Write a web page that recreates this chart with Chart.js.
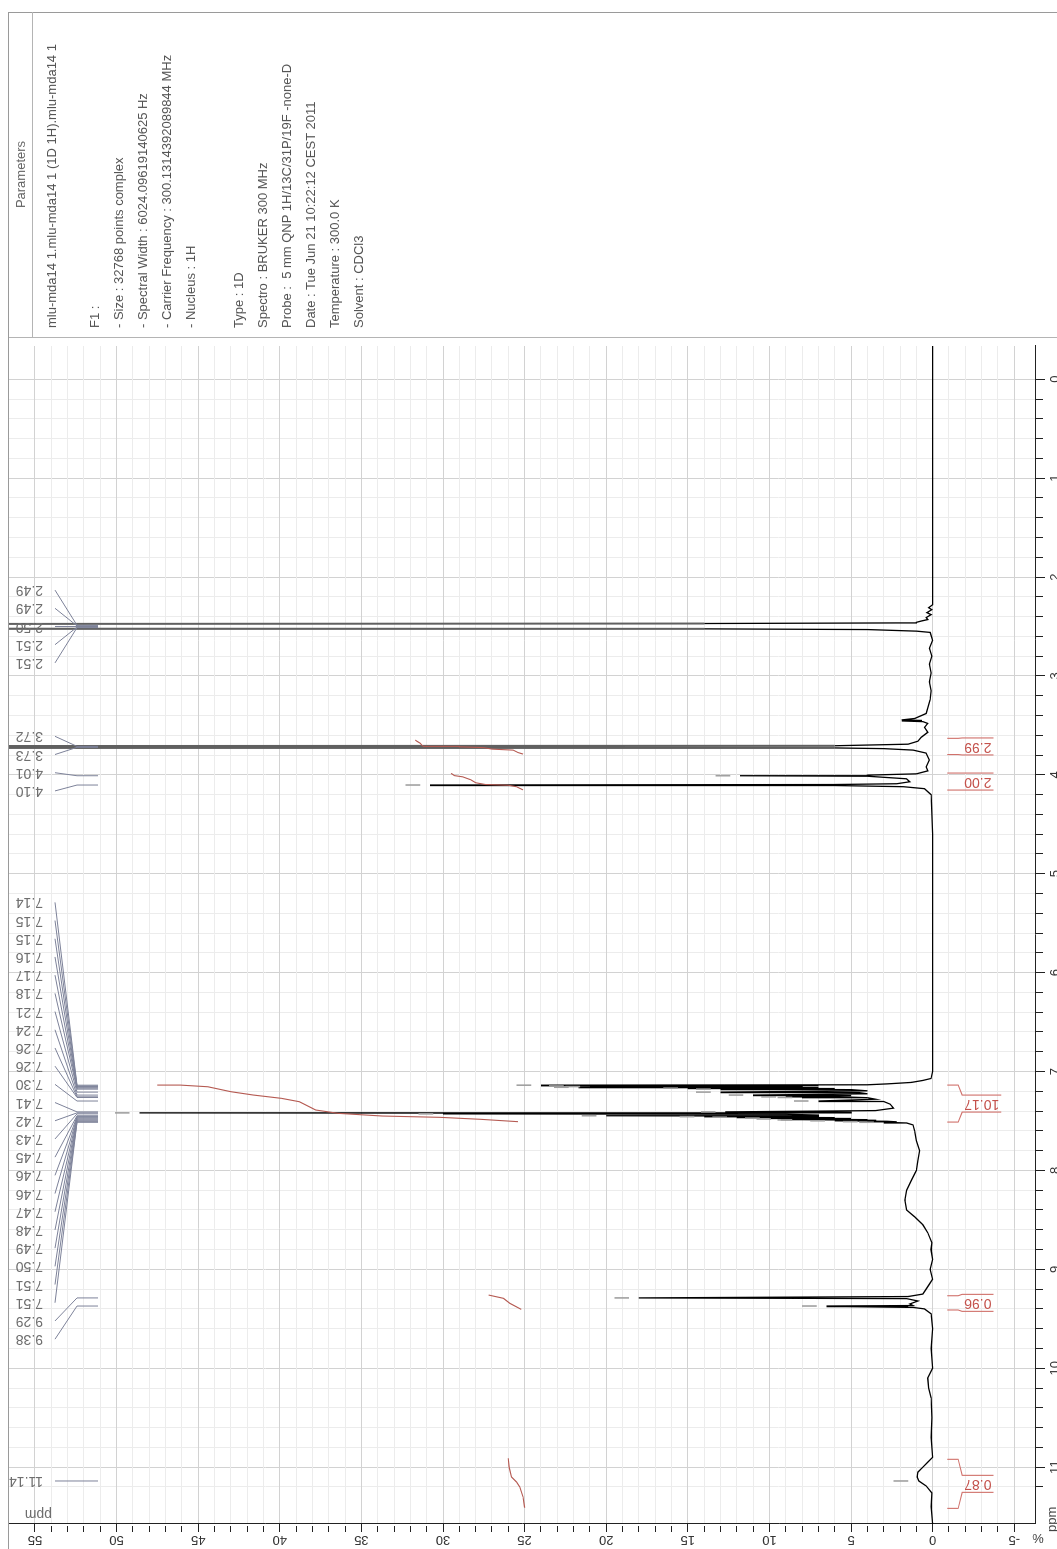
<!DOCTYPE html>
<html><head><meta charset="utf-8">
<script src="https://cdn.jsdelivr.net/npm/chart.js@4.4.1/dist/chart.umd.min.js"></script>
<style>
html,body{margin:0;padding:0;background:#fff;overflow:hidden;width:1057px;height:1549px;}
#wrap{position:absolute;left:0;top:0;width:1549px;height:1057px;transform-origin:0 0;transform:translateY(1549px) rotate(-90deg);font-family:"Liberation Sans",Arial,sans-serif;background:#fff;}
#c{position:absolute;left:0;top:0;}
#frame{position:absolute;left:0;top:8px;width:1537px;height:1049px;border-top:1px solid #9a9a9a;border-right:1px solid #9a9a9a;box-sizing:border-box;pointer-events:none;}
#panel{position:absolute;left:1211px;top:9px;width:326px;height:1048px;border-left:1px solid #b4b4b4;box-sizing:border-box;overflow:hidden;color:#555;font-size:13px;}
#phead{height:24px;line-height:23px;border-bottom:1px solid #b4b4b4;box-sizing:border-box;text-align:center;color:#666;}
#pbody{padding:7px 0 0 9px;}
#pbody div{height:24px;line-height:24px;white-space:nowrap;}
#pbody div.gap{height:19px;}
</style></head><body>
<div id="wrap">
<canvas id="c" width="1549" height="1057"></canvas>
<div id="frame"></div>
<div id="panel">
  <div id="phead">Parameters</div>
  <div id="pbody">
    <div>mlu-mda14 1.mlu-mda14 1 (1D 1H).mlu-mda14 1</div>
    <div class="gap"></div>
    <div>F1 :</div>
    <div>- Size : 32768 points complex</div>
    <div>- Spectral Width : 6024.09619140625 Hz</div>
    <div>- Carrier Frequency : 300.1314392089844 MHz</div>
    <div>- Nucleus : 1H</div>
    <div class="gap" style="height:24px"></div>
    <div>Type : 1D</div>
    <div>Spectro : BRUKER 300 MHz</div>
    <div>Probe : &nbsp;5 mm QNP 1H/13C/31P/19F -none-D</div>
    <div>Date : Tue Jun 21 10:22:12 CEST 2011</div>
    <div>Temperature : 300.0 K</div>
    <div>Solvent : CDCl3</div>
  </div>
</div>
</div>
<script>
// ---------- DATA ----------
const ppmTickValues = [0,1,2,3,4,5,6,7,8,9,10,11];
const ppmTickLabels = ['0','1','2','3','4','5','6','7','8','9','10','11'];
const intensityTickValues = [-5,0,5,10,15,20,25,30,35,40,45,50,55];
const intensityTickLabels = ['-5','0','5','10','15','20','25','30','35','40','45','50','55'];

const spectrumPpm = [
 -0.336,0.6,1.2,1.8,2.28,2.31,2.33,2.36,2.38,2.41,2.43,2.445,2.458,2.464,
 2.470,2.480,2.490,2.500,2.510,2.520,2.524,2.531,2.547,2.56,
 2.64,2.72,2.8,2.88,2.97,3.06,3.15,3.24,3.32,3.38,3.43,3.445,3.45,3.455,3.462,3.48,3.52,3.57,3.62,3.66,3.69,
 3.706,3.712,3.717,3.722,3.728,3.735,3.75,3.78,3.85,3.92,3.96,3.99,
 4.003,4.009,4.014,4.04,4.07,4.09,4.098,4.103,4.108,4.12,4.14,4.2,4.6,5.4,6.2,6.9,
 7.0,7.07,7.09,7.11,7.125,7.134,
 7.138,7.142,7.146,7.149,7.152,7.155,7.159,7.163,7.168,7.172,7.178,7.183,7.195,7.208,7.213,7.225,
 7.238,7.243,7.256,7.259,7.262,7.267,7.28,7.298,7.303,7.33,7.37,7.395,
 7.408,7.412,7.418,7.422,7.428,7.432,7.44,7.447,7.451,7.456,7.459,7.462,7.466,7.471,7.475,
 7.48,7.484,7.489,7.493,7.498,7.503,7.507,7.510,7.513,7.52,7.54,
 7.6,7.7,7.8,7.9,8.0,8.1,8.2,8.3,8.4,8.47,8.55,8.63,8.73,8.8,8.9,9.0,9.1,9.15,9.2,9.25,
 9.275,9.289,9.296,9.32,9.35,9.366,9.371,9.375,9.379,9.385,9.4,9.45,
 9.6,9.8,10.0,10.1,10.2,10.3,10.5,10.7,10.9,10.95,11.0,11.05,11.1,11.14,11.19,11.26,11.4,11.575
];
const spectrumIntensity = [
 0,0,0,0,0,0.25,0.05,0.35,0.1,0.4,0.3,0.7,1.0,2.3,
 14,120,60,130,60,120,14,4,1.0,0.15,
 0,0.2,0.05,0.2,0.1,0.2,0.1,0.15,0.3,0.4,1.1,1.9,0.7,1.9,0.6,0.3,0.5,0.3,0.7,0.9,1.5,
 6,120,40,115,6,3,1.2,0.4,0.2,0.4,0.3,1.0,
 4,11.8,4,1.6,1.4,2.2,6,30.8,6,1.8,0.5,0.1,0,0,0,0,
 0,0.1,0.6,1.3,2.8,4,
 24,7,22,8,21,8,21.7,7,15,6,13,5,4,13,4.5,4,
 11,5,9,5,8,4,3.5,7,3,2.6,2.4,3.5,
 12.7,5,48.6,12,30,9,7,20,7,14,7,12,6,10,5,
 9.3,4,8,3.5,6,2.8,4,2.2,3,1.6,1.2,
 1.1,1.0,0.8,0.9,1.0,1.3,1.6,1.7,1.6,1.1,0.6,0.3,0.05,0.1,0,0.15,0,0.2,0.4,0.6,
 1.5,18,1.6,0.9,1.4,1.2,6.5,1.5,5.3,1.2,0.5,0.1,
 0,0.1,0,0.3,0.25,0.1,0.05,0.1,0,0.3,0.6,0.9,0.95,0.85,0.4,0.05,0.1,0
];

// integral curves (ppm, %)
const integral1Ppm = [3.79,3.775,3.75,3.74,3.725,3.716,3.712,3.70,3.68,3.66,3.648];
const integral1Val = [25.1,25.4,25.7,27.0,27.5,29.0,31.2,31.3,31.4,31.6,31.7];
const integral2Ppm = [4.152,4.12,4.105,4.098,4.08,4.05,4.02,4.008,3.985];
const integral2Val = [25.1,25.5,26.0,27.4,28.0,28.3,28.8,29.3,29.5];
const integral3Ppm = [7.507,7.483,7.463,7.45,7.423,7.389,7.305,7.271,7.238,7.204,7.154,7.137,7.137];
const integral3Val = [25.4,27.7,30.2,33.7,36.4,37.8,38.8,39.9,41.6,43.0,44.4,46.1,47.5];
const integral4Ppm = [9.405,9.344,9.293,9.26];
const integral4Val = [25.2,25.9,26.3,27.2];
const integral5Ppm = [11.41,11.3,11.2,11.15,11.1,11.0,10.91];
const integral5Val = [25.0,25.1,25.3,25.5,25.8,25.95,26.0];

// integral brackets
const integralFrom = [3.631,3.982,7.137,9.267,10.921];
const integralTo   = [3.795,4.154,7.511,9.411,11.417];
const integralLabels = ['2.99','2.00','10.17','0.96','0.87'];

// peak picking
const peakLabels = ['2.49','2.49','2.50','2.51','2.51','3.72','3.73','4.01','4.10',
 '7.14','7.15','7.15','7.16','7.17','7.18','7.21','7.24','7.26','7.26','7.30',
 '7.41','7.42','7.43','7.45','7.46','7.46','7.47','7.48','7.49','7.50','7.51','7.51',
 '9.29','9.38','11.14'];
const peakPpm = [2.488,2.494,2.500,2.506,2.512,3.712,3.722,4.009,4.103,
 7.138,7.146,7.152,7.159,7.168,7.178,7.208,7.238,7.256,7.262,7.298,
 7.408,7.418,7.428,7.447,7.456,7.462,7.471,7.480,7.489,7.498,7.507,7.513,
 9.289,9.371,11.14];
const peakHeight = [120,60,130,60,120,120,115,11.8,30.8,
 24,22,21,21.7,15,13,13,11,9,8,7,
 12.7,48.6,30,20,14,12,10,9.3,8,6,4,3,
 18,6.5,0.9];

// ---------- CHART ----------
const X_MIN = -0.336, X_MAX = 11.575, Y_MIN = -6.27, Y_MAX = 56.59;
const FONT = '"Liberation Sans", Arial, sans-serif';
const near = (v, s) => Math.abs(v / s - Math.round(v / s)) < 1e-6;
const xy = (xs, ys) => xs.map((p, i) => ({x: p, y: ys[i]}));

const annot = {
  id: 'annot',
  afterDatasetsDraw(chart) {
    const {ctx, scales: {x, y}, chartArea} = chart;
    const top = chartArea.top;
    const y0 = y.getPixelForValue(0);
    ctx.save();
    // peak markers
    ctx.strokeStyle = '#a0a0a0'; ctx.lineWidth = 1.6;
    peakPpm.forEach((p, i) => {
      const h = peakHeight[i];
      if (h + 1.5 > Y_MAX) return;
      const px = x.getPixelForValue(p);
      ctx.beginPath();
      ctx.moveTo(px, y.getPixelForValue(h + 0.6));
      ctx.lineTo(px, y.getPixelForValue(h + 1.5));
      ctx.stroke();
    });
    // peak labels layout
    const pos = peakPpm.map(p => x.getPixelForValue(p));
    const order = pos.map((v, i) => i).sort((a, b) => pos[a] - pos[b]);
    const S = 18.2;
    let groups = order.map(i => ({items: [i], c: pos[i]}));
    let changed = true;
    while (changed) {
      changed = false;
      for (let g = 0; g < groups.length - 1; g++) {
        const A = groups[g], B = groups[g + 1];
        const aEnd = A.c + (A.items.length - 1) * S / 2;
        const bStart = B.c - (B.items.length - 1) * S / 2;
        if (bStart - aEnd < S) {
          const items = A.items.concat(B.items);
          const c = items.reduce((s, i) => s + pos[i], 0) / items.length;
          groups.splice(g, 2, {items, c});
          changed = true; break;
        }
      }
    }
    ctx.lineWidth = 1; ctx.strokeStyle = '#7d8299';
    ctx.font = '14px ' + FONT; ctx.fillStyle = '#6e6e6e';
    groups.forEach(G => {
      const n = G.items.length;
      G.items.forEach((i, k) => {
        const lp = G.c + (k - (n - 1) / 2) * S;
        const pp = pos[i];
        ctx.beginPath();
        ctx.moveTo(lp, top + 46);
        ctx.lineTo(pp, top + 68);
        ctx.lineTo(pp, top + 89);
        ctx.stroke();
        ctx.save();
        ctx.translate(lp, top + 34);
        ctx.rotate(-Math.PI / 2);
        ctx.textAlign = 'left'; ctx.textBaseline = 'middle';
        ctx.fillText(peakLabels[i], 0, 0);
        ctx.restore();
      });
    });
    // "ppm" header of the label column
    ctx.save();
    ctx.translate(x.left + 10, top + 43);
    ctx.rotate(-Math.PI / 2);
    ctx.textAlign = 'left'; ctx.textBaseline = 'middle';
    ctx.fillText('ppm', 0, 0);
    ctx.restore();
    // integral brackets
    ctx.strokeStyle = '#d0706a'; ctx.fillStyle = '#c4524c'; ctx.lineWidth = 1.1;
    ctx.font = '14px ' + FONT;
    integralLabels.forEach((lab, i) => {
      const a = x.getPixelForValue(integralFrom[i]);
      const b = x.getPixelForValue(integralTo[i]);
      const lo = Math.min(a, b), hi = Math.max(a, b);
      const c = (lo + hi) / 2, h = 8.5;
      const w = ctx.measureText(lab).width;
      const o1 = y0 + 14.5, o2 = y0 + 25.5, i1 = y0 + 29.5, i2 = y0 + 29.5 + w + 4;
      [[lo, c - h], [hi, c + h]].forEach(([outer, inner]) => {
        ctx.beginPath();
        ctx.moveTo(outer, o1);
        ctx.lineTo(outer, o2);
        ctx.lineTo(inner, i1);
        ctx.lineTo(inner, i2);
        ctx.stroke();
      });
      ctx.save();
      ctx.translate(c, i1 + 2);
      ctx.rotate(-Math.PI / 2);
      ctx.textAlign = 'right'; ctx.textBaseline = 'middle';
      ctx.fillText(lab, 0, 0);
      ctx.restore();
    });
    ctx.restore();
  },
  afterDraw(chart) {
    const {ctx, scales: {x, y}} = chart;
    ctx.save();
    ctx.fillStyle = '#444'; ctx.font = '13px ' + FONT;
    ctx.textAlign = 'left'; ctx.textBaseline = 'top';
    ctx.fillText('ppm', x.left - 8, x.top + 11);
    ctx.translate(y.left + 11, x.top + 3);
    ctx.rotate(-Math.PI / 2);
    ctx.textAlign = 'center'; ctx.textBaseline = 'middle';
    ctx.fillText('%', 0, 0);
    ctx.restore();
  }
};

const lineDs = (data, color, width, extra) => Object.assign({
  data, borderColor: color, borderWidth: width, pointRadius: 0, showLine: true, fill: false, tension: 0
}, extra || {});

const offScale = c => c.p0.parsed.y > Y_MAX || c.p1.parsed.y > Y_MAX;

new Chart(document.getElementById('c'), {
  type: 'scatter',
  data: {
    datasets: [
      lineDs(xy(integral1Ppm, integral1Val), '#b55a52', 1.1),
      lineDs(xy(integral2Ppm, integral2Val), '#b55a52', 1.1),
      lineDs(xy(integral3Ppm, integral3Val), '#b55a52', 1.1),
      lineDs(xy(integral4Ppm, integral4Val), '#b55a52', 1.1),
      lineDs(xy(integral5Ppm, integral5Val), '#b55a52', 1.1),
      lineDs(xy(spectrumPpm, spectrumIntensity), '#000', 1.3, {
        segment: {
          borderColor: c => offScale(c) ? '#606060' : undefined,
          borderWidth: c => offScale(c) ? 2 : undefined
        }
      })
    ]
  },
  options: {
    responsive: false, animation: false, devicePixelRatio: 1,
    layout: {padding: {left: 0, right: 346, top: 9, bottom: 0}},
    plugins: {legend: {display: false}, tooltip: {enabled: false}},
    scales: {
      x: {
        type: 'linear', reverse: true, min: X_MIN, max: X_MAX, position: 'bottom',
        afterBuildTicks: s => { s.ticks = s.ticks.filter(t => near(t.value, 0.2)); },
        afterFit: s => { s.height = 22; },
        ticks: {
          stepSize: 0.2, autoSkip: false, maxRotation: 0, minRotation: 0, padding: 3,
          color: '#333', font: {size: 13, family: FONT},
          callback: v => { const k = ppmTickValues.findIndex(t => Math.abs(t - v) < 1e-6); return k >= 0 ? ppmTickLabels[k] : ''; }
        },
        grid: {
          color: c => (c.tick && near(c.tick.value, 1)) ? '#d2d2d2' : '#ececec',
          lineWidth: 1, tickLength: 10, tickColor: '#222',
          tickBorderDash: c => (c.tick && near(c.tick.value, 1)) ? [] : [7, 30]
        },
        border: {color: '#222', width: 1}
      },
      y: {
        type: 'linear', min: Y_MIN, max: Y_MAX, position: 'left',
        afterBuildTicks: s => { s.ticks = s.ticks.filter(t => near(t.value, 1)); },
        afterFit: s => { s.width = 25; },
        ticks: {
          stepSize: 1, autoSkip: false, minRotation: 90, maxRotation: 90, padding: 0, crossAlign: 'center',
          color: '#333', font: {size: 13, family: FONT},
          callback: v => { const k = intensityTickValues.findIndex(t => Math.abs(t - v) < 1e-6); return k >= 0 ? intensityTickLabels[k] : ''; }
        },
        grid: {
          color: c => (c.tick && near(c.tick.value, 5)) ? '#d2d2d2' : '#ececec',
          lineWidth: 1, tickLength: 8, tickColor: '#222',
          tickBorderDash: c => (c.tick && near(c.tick.value, 5)) ? [] : [6, 30]
        },
        border: {color: '#222', width: 1}
      }
    }
  },
  plugins: [annot]
});
</script>
</body></html>
